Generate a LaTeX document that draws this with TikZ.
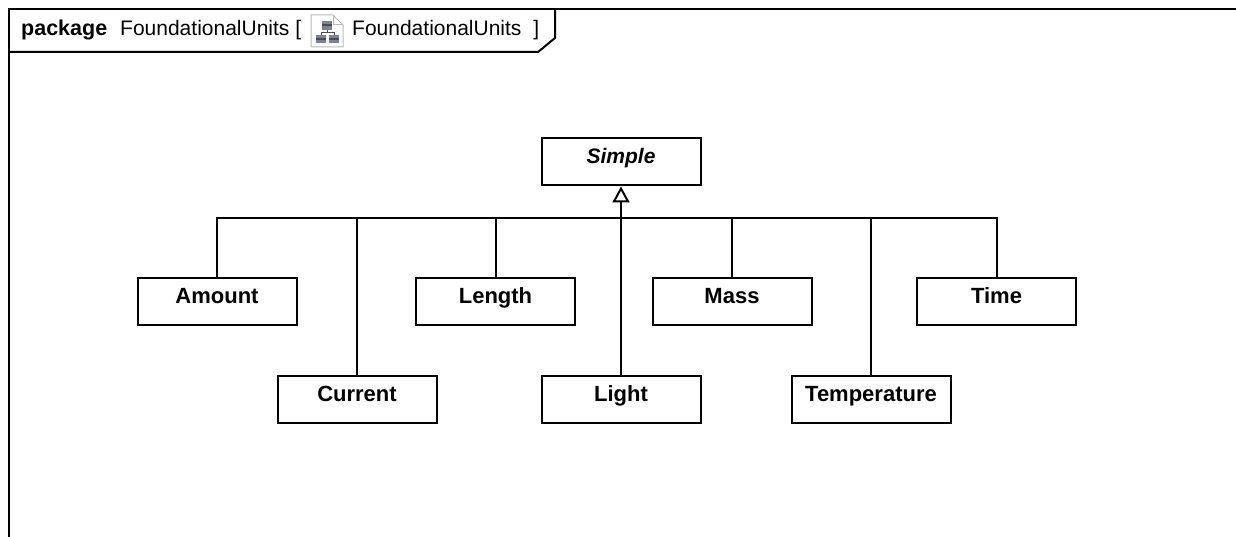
\documentclass[tikz,border=0pt]{standalone}
\usepackage{fontspec}
\usetikzlibrary{arrows.meta}
\setmainfont{Liberation Sans}
\definecolor{iconfill}{RGB}{125,130,150}
\begin{document}
\begin{tikzpicture}[x=1pt,y=-1pt,line join=miter,
  cls/.style={draw=black,line width=2pt,fill=white,minimum width=159pt,minimum height=47pt,inner sep=0pt,text height=14pt,text depth=10pt,font=\fontsize{22}{24}\selectfont\bfseries},
  conn/.style={draw=black,line width=2pt},
  frameline/.style={draw=black,line width=2pt}]
\useasboundingbox (0,0) rectangle (1236,537);
\draw[frameline] (9,537) -- (9,9) -- (1236,9);
\draw[frameline] (9,52) -- (538,52) -- (555,38) -- (555,9);
\node[anchor=base west,inner sep=0pt,font=\fontsize{21.5}{24}\selectfont] (title) at (21,36) {\textbf{package}};
\node[anchor=base west,inner sep=0pt,font=\fontsize{21}{24}\selectfont] (titleb) at (120,36) {FoundationalUnits [};
\node[anchor=base west,inner sep=0pt,font=\fontsize{21}{24}\selectfont] (title2) at (352,36) {FoundationalUnits\hspace{6pt} ]};
% diagram icon
\fill[white] (311,15) -- (333,15) -- (343,25) -- (343,47) -- (311,47) -- cycle;
\draw[gray!55,line width=1pt] (311,15) -- (333,15) -- (343,25) -- (343,47) -- (311,47) -- cycle;
\draw[gray!55,line width=1pt] (333,15) -- (333,25) -- (343,25);
\fill[iconfill] (322,21) rectangle (332,30);
\fill[iconfill] (316,35) rectangle (326,43);
\fill[iconfill] (329,35) rectangle (339,43);
\fill[black!70] (322,24) rectangle (332,26);
\fill[black!70] (316,38) rectangle (326,40);
\fill[black!70] (329,38) rectangle (339,40);
\draw[black!70,line width=0.8pt] (327,30) -- (327,32) (321,35) -- (321,32) -- (334,32) -- (334,35);
\node[cls,font=\fontsize{21}{24}\selectfont\bfseries\itshape] (simple) at (621,162) {Simple};
\node[cls] (amount) at (217,301) {Amount};
\node[cls] (current) at (357,399) {Current};
\node[cls] (length) at (495.5,301) {Length};
\node[cls] (light) at (621,399) {Light};
\node[cls] (mass) at (732,301) {Mass};
\node[cls] (temperature) at (871,399) {Temperature};
\node[cls] (time) at (996.5,301) {Time};
\coordinate (trunk) at (621,218);
\draw[conn,-{Triangle[open,fill=white,length=16pt,width=17pt,line width=2pt]}] (light.north) -- (simple.south);
\foreach \c in {amount,current,length,mass,temperature,time}
  \draw[conn] (\c.north) |- (trunk);
\end{tikzpicture}
\end{document}
